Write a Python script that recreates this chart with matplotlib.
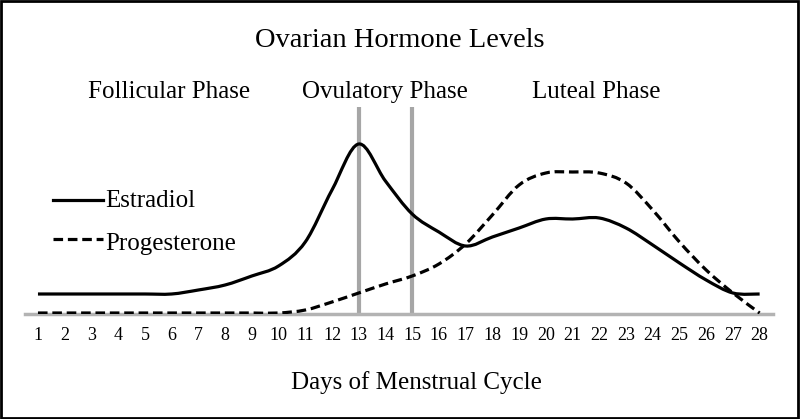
import matplotlib
matplotlib.use("Agg")
import matplotlib.pyplot as plt
import matplotlib.transforms as mtransforms
import numpy as np
from matplotlib.path import Path
from matplotlib.patches import PathPatch, Rectangle

plt.rcParams['font.family'] = ['Liberation Serif', 'DejaVu Serif']

# --- data (relative hormone level) ---
days = np.arange(1, 29)
estradiol = [20, 20, 20, 20, 20, 20, 24, 29, 38, 48, 72, 124, 170, 133,
             100, 82, 68, 77, 86, 95, 95, 96, 86, 69, 51, 34, 21, 20]
progesterone = [1, 1, 1, 1, 1, 1, 1, 1, 1, 1, 4, 12, 21, 30,
                38, 50, 70, 99, 129, 141, 142, 141, 131, 104, 72, 44, 21, 1]
phase_lines = [13, 15]
phases = ["Follicular Phase", "Ovulatory Phase", "Luteal Phase"]
phase_x = [5.9, 14.0, 21.9]

W, H = 800, 419
DASH = (0, (3.0, 1.5))


def smooth_path(x, y):
    # cubic bezier through the points, like a spreadsheet "smoothed line"
    x = np.asarray(x, float)
    y = np.asarray(y, float)
    n = len(x)
    verts = [(x[0], y[0])]
    codes = [Path.MOVETO]
    for i in range(n - 1):
        p0 = np.array([x[max(i - 1, 0)], y[max(i - 1, 0)]])
        p1 = np.array([x[i], y[i]])
        p2 = np.array([x[i + 1], y[i + 1]])
        p3 = np.array([x[min(i + 2, n - 1)], y[min(i + 2, n - 1)]])
        c1 = p1 + (p2 - p0) / 6.0
        c2 = p2 - (p3 - p1) / 6.0
        verts += [tuple(c1), tuple(c2), tuple(p2)]
        codes += [Path.CURVE4] * 3
    return Path(verts, codes)


fig = plt.figure(figsize=(8, 4.19), dpi=100)
ax = fig.add_axes([24.6 / W, (H - 314) / H, 748.4 / W, 207 / H])
ax.set_xlim(0.5, 28.5)
ax.set_ylim(0, 207)

for d in phase_lines:
    ax.axvline(d, color="#a6a6a6", lw=3, zorder=1)

ax.add_patch(PathPatch(smooth_path(days, estradiol), fill=False,
                       color="black", lw=2.3, zorder=3))
ax.add_patch(PathPatch(smooth_path(days, progesterone), fill=False,
                       color="black", lw=2.3, zorder=3, linestyle=DASH))

for s in ["top", "right", "left"]:
    ax.spines[s].set_visible(False)
ax.spines["bottom"].set_color("#b3b3b3")
ax.spines["bottom"].set_linewidth(2.5)
ax.set_yticks([])
ax.set_xticks(days)
ax.set_xticklabels([str(d) for d in days], fontsize=13)
ax.tick_params(axis="x", length=0, pad=9)
ax.patch.set_alpha(0)

# titles and phase labels
fig.text(0.5, 1 - 47 / H, "Ovarian Hormone Levels", ha="center", va="baseline", fontsize=20.5)
blend = mtransforms.blended_transform_factory(ax.transData, fig.transFigure)
for name, px in zip(phases, phase_x):
    ax.text(px, 1 - 98 / H, name, ha="center", va="baseline", fontsize=18, transform=blend)
fig.text(0.52, 1 - 389 / H, "Days of Menstrual Cycle", ha="center", va="baseline", fontsize=18)

# legend drawn by hand
for ypx, base, label, ls in [(200, 207, "Estradiol", "-"), (239, 250, "Progesterone", DASH)]:
    fy = 1 - ypx / H
    fig.add_artist(plt.Line2D([53 / W, 103 / W], [fy, fy], color="black",
                              lw=2.3, linestyle=ls, transform=fig.transFigure))
    fig.text(105 / W, 1 - base / H, label, ha="left", va="baseline", fontsize=18)

# outer frame
fig.add_artist(Rectangle((0.001, 0.002), 0.997, 0.995, transform=fig.transFigure,
                         fill=False, edgecolor="black", lw=2))

fig.savefig("out.png", dpi=100)
